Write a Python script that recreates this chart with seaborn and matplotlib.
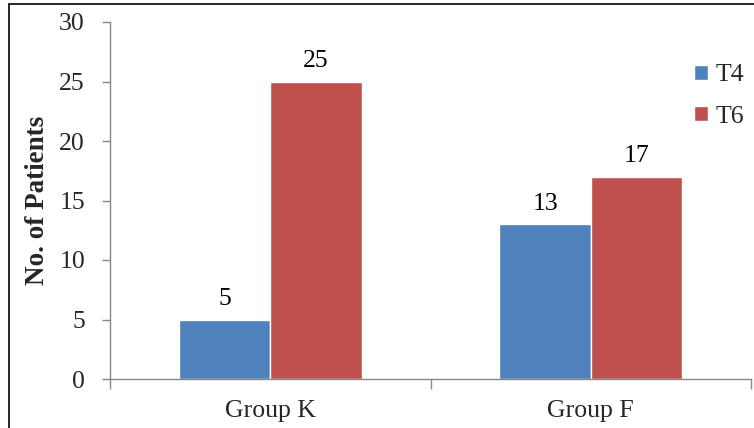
import matplotlib
matplotlib.use("Agg")
import matplotlib.pyplot as plt
import seaborn as sns
import pandas as pd
from matplotlib.patches import Rectangle

groups = ["Group K", "Group F"]
series = ["T4", "T6"]
t4_values = [5, 13]
t6_values = [25, 17]
y_ticks = [0, 5, 10, 15, 20, 25, 30]

df = pd.DataFrame({
    "group": groups * 2,
    "series": ["T4"] * len(groups) + ["T6"] * len(groups),
    "value": t4_values + t6_values,
})

sns.set_theme(style="white")
plt.rcParams["font.family"] = ["Liberation Serif", "DejaVu Serif"]

FS = 18.5

fig = plt.figure(figsize=(7.54, 4.28), dpi=100)
ax = fig.add_axes([110/754, 1-379/428, (751-110)/754, (379-22)/428])

palette = {"T4": "#4F81BD", "T6": "#C0504D"}
sns.barplot(data=df, x="group", y="value", hue="series", order=groups,
            hue_order=series, palette=palette, width=0.57, saturation=1,
            ax=ax, legend=True)

for cont in ax.containers:
    ax.bar_label(cont, fontsize=FS, padding=7, color="black")

ax.set_ylim(0, 30)
ax.set_yticks(y_ticks)
ax.set_xlim(-0.5, 1.5)
ax.set_xticks([-0.5, 0.5, 1.5])
ax.set_xticklabels([])
ax.set_xticks([0, 1], minor=True)
ax.set_xticklabels(groups, minor=True, fontsize=FS)
ax.tick_params(axis="x", which="minor", bottom=True, length=0, pad=15)
ax.tick_params(axis="x", which="major", bottom=True, length=7, width=1,
               color="#888888", direction="out")
ax.tick_params(axis="y", left=True, length=6, width=1, color="#888888",
               direction="out", labelsize=FS, pad=12)
for s in ["top", "right"]:
    ax.spines[s].set_visible(False)
for s in ["left", "bottom"]:
    ax.spines[s].set_color("#888888")
    ax.spines[s].set_linewidth(1)
ax.set_xlabel("")
ax.set_ylabel("No. of Patients", fontsize=19.5, fontweight="bold", labelpad=7)

leg = ax.legend(loc="upper left", bbox_to_anchor=(0.895, 0.91), frameon=False,
                fontsize=FS, handlelength=0.55, handleheight=0.55,
                handletextpad=0.3, labelspacing=0.75, borderaxespad=0)

fig.patches.append(Rectangle((9/754, -0.1), 1.2, 1.1 - 4/428, transform=fig.transFigure,
                             fill=False, edgecolor="black", linewidth=1.2))

fig.savefig("out.png", dpi=100)
